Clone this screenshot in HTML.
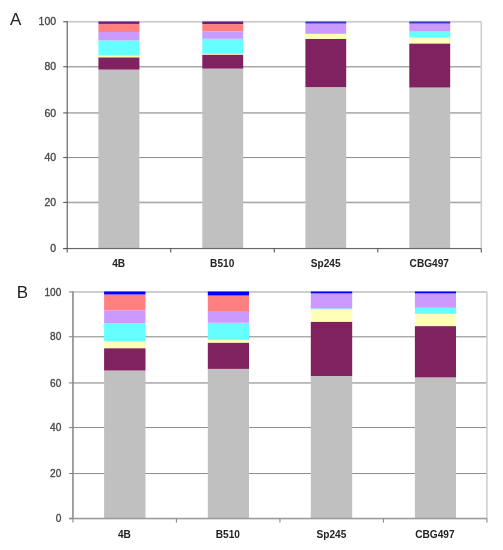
<!DOCTYPE html>
<html><head><meta charset="utf-8"><title>Figure</title>
<style>
html,body{margin:0;padding:0;background:#fff;}
svg{display:block;}
text{font-family:"Liberation Sans",sans-serif;}
.yl{fill:#444;stroke:#444;stroke-width:0.3px;}
.xl{font-size:10.1px;font-weight:bold;fill:#222;}
.lt{font-size:17px;fill:#222;}
</style></head><body>
<svg width="503" height="550" viewBox="0 0 503 550">
<defs><filter id="b" x="0" y="0" width="503" height="550" filterUnits="userSpaceOnUse"><feGaussianBlur stdDeviation="0.6"/></filter></defs>
<rect width="503" height="550" fill="#fff"/>
<g filter="url(#b)">
<rect x="67.2" y="20.86" width="414.1" height="1.8" fill="#cccccc"/>
<rect x="67.2" y="65.99" width="414.1" height="1.5" fill="#a8a8a8"/>
<rect x="67.2" y="112.17" width="414.1" height="1.5" fill="#a8a8a8"/>
<rect x="67.2" y="157.04" width="414.1" height="1.0" fill="#8c8c8c"/>
<rect x="67.2" y="201.66" width="414.1" height="1.6" fill="#a8a8a8"/>
<rect x="480.50" y="21.76" width="1.6" height="226.78" fill="#cfcfcf"/>
<rect x="98.4" y="69.6" width="41.00" height="178.94" fill="#c0c0c0"/>
<rect x="98.4" y="57.3" width="41.00" height="12.30" fill="#80205f"/>
<rect x="98.4" y="55.6" width="41.00" height="1.70" fill="#ffffa8"/>
<rect x="98.4" y="40.4" width="41.00" height="15.20" fill="#66ffff"/>
<rect x="98.4" y="32.0" width="41.00" height="8.40" fill="#cc99ff"/>
<rect x="98.4" y="23.9" width="41.00" height="8.10" fill="#ff8080"/>
<rect x="98.4" y="21.5" width="41.00" height="2.40" fill="#6a1a8a"/>
<rect x="202.3" y="68.6" width="40.90" height="179.94" fill="#c0c0c0"/>
<rect x="202.3" y="54.7" width="40.90" height="13.90" fill="#80205f"/>
<rect x="202.3" y="53.7" width="40.90" height="1.00" fill="#ffd9a0"/>
<rect x="202.3" y="38.8" width="40.90" height="14.90" fill="#66ffff"/>
<rect x="202.3" y="31.5" width="40.90" height="7.30" fill="#cc99ff"/>
<rect x="202.3" y="24.0" width="40.90" height="7.50" fill="#ff8080"/>
<rect x="202.3" y="21.5" width="40.90" height="2.50" fill="#6a1a8a"/>
<rect x="305.4" y="87.1" width="40.80" height="161.44" fill="#c0c0c0"/>
<rect x="305.4" y="38.8" width="40.80" height="48.30" fill="#80205f"/>
<rect x="305.4" y="34.0" width="40.80" height="4.80" fill="#ffffb8"/>
<rect x="305.4" y="33.0" width="40.80" height="1.00" fill="#99ccff"/>
<rect x="305.4" y="23.6" width="40.80" height="9.40" fill="#cc99ff"/>
<rect x="305.4" y="21.5" width="40.80" height="2.10" fill="#3838d0"/>
<rect x="409.3" y="87.5" width="40.90" height="161.04" fill="#c0c0c0"/>
<rect x="409.3" y="43.4" width="40.90" height="44.10" fill="#80205f"/>
<rect x="409.3" y="37.6" width="40.90" height="5.80" fill="#ffffb8"/>
<rect x="409.3" y="31.5" width="40.90" height="6.10" fill="#66ffff"/>
<rect x="409.3" y="23.6" width="40.90" height="7.90" fill="#cc99ff"/>
<rect x="409.3" y="21.5" width="40.90" height="2.10" fill="#3838d0"/>
<rect x="66.65" y="21.26" width="1.1" height="227.28" fill="#5a5a5a"/>
<rect x="63.20" y="247.94" width="418.10" height="1.2" fill="#666"/>
<rect x="63.20" y="21.21" width="4" height="1.1" fill="#5a5a5a"/>
<text x="56.1" y="25.46" text-anchor="end" class="yl" font-size="10.5">100</text>
<rect x="63.20" y="66.19" width="4" height="1.1" fill="#5a5a5a"/>
<text x="56.1" y="70.44" text-anchor="end" class="yl" font-size="10.5">80</text>
<rect x="63.20" y="112.37" width="4" height="1.1" fill="#5a5a5a"/>
<text x="56.1" y="116.62" text-anchor="end" class="yl" font-size="10.5">60</text>
<rect x="63.20" y="156.99" width="4" height="1.1" fill="#5a5a5a"/>
<text x="56.1" y="161.24" text-anchor="end" class="yl" font-size="10.5">40</text>
<rect x="63.20" y="201.91" width="4" height="1.1" fill="#5a5a5a"/>
<text x="56.1" y="206.16" text-anchor="end" class="yl" font-size="10.5">20</text>
<rect x="63.20" y="247.99" width="4" height="1.1" fill="#5a5a5a"/>
<text x="56.1" y="252.24" text-anchor="end" class="yl" font-size="10.5">0</text>
<rect x="66.65" y="248.54" width="1.1" height="4" fill="#5a5a5a"/>
<rect x="170.18" y="248.54" width="1.1" height="4" fill="#5a5a5a"/>
<rect x="273.70" y="248.54" width="1.1" height="4" fill="#5a5a5a"/>
<rect x="377.23" y="248.54" width="1.1" height="4" fill="#5a5a5a"/>
<rect x="480.75" y="248.54" width="1.1" height="4" fill="#5a5a5a"/>
<text x="118.66" y="267.4" text-anchor="middle" class="xl">4B</text>
<text x="222.19" y="267.4" text-anchor="middle" class="xl">B510</text>
<text x="325.71" y="267.4" text-anchor="middle" class="xl">Sp245</text>
<text x="429.24" y="267.4" text-anchor="middle" class="xl">CBG497</text>
<text x="10" y="25" class="lt">A</text>
<rect x="72.95" y="290.99" width="413.98" height="1.9" fill="#cccccc"/>
<rect x="72.95" y="336.04" width="413.98" height="1.4" fill="#a8a8a8"/>
<rect x="72.95" y="382.18" width="413.98" height="1.5" fill="#a8a8a8"/>
<rect x="72.95" y="427.04" width="413.98" height="1.0" fill="#8c8c8c"/>
<rect x="72.95" y="473.03" width="413.98" height="1.0" fill="#8c8c8c"/>
<rect x="486.13" y="291.94" width="1.6" height="226.60" fill="#cfcfcf"/>
<rect x="104.1" y="370.5" width="41.40" height="148.04" fill="#c0c0c0"/>
<rect x="104.1" y="348.2" width="41.40" height="22.30" fill="#80205f"/>
<rect x="104.1" y="341.2" width="41.40" height="7.00" fill="#ffffb8"/>
<rect x="104.1" y="323.3" width="41.40" height="17.90" fill="#66ffff"/>
<rect x="104.1" y="310.2" width="41.40" height="13.10" fill="#cc99ff"/>
<rect x="104.1" y="294.5" width="41.40" height="15.70" fill="#ff8080"/>
<rect x="104.1" y="291.5" width="41.40" height="3.00" fill="#0000ff"/>
<rect x="207.8" y="368.9" width="41.20" height="149.64" fill="#c0c0c0"/>
<rect x="207.8" y="342.6" width="41.20" height="26.30" fill="#80205f"/>
<rect x="207.8" y="339.8" width="41.20" height="2.80" fill="#ffffb8"/>
<rect x="207.8" y="322.7" width="41.20" height="17.10" fill="#66ffff"/>
<rect x="207.8" y="311.8" width="41.20" height="10.90" fill="#cc99ff"/>
<rect x="207.8" y="295.5" width="41.20" height="16.30" fill="#ff8080"/>
<rect x="207.8" y="291.5" width="41.20" height="4.00" fill="#0000ff"/>
<rect x="310.8" y="376.0" width="41.40" height="142.54" fill="#c0c0c0"/>
<rect x="310.8" y="321.7" width="41.40" height="54.30" fill="#80205f"/>
<rect x="310.8" y="309.4" width="41.40" height="12.30" fill="#ffffb8"/>
<rect x="310.8" y="308.4" width="41.40" height="1.00" fill="#66ffff"/>
<rect x="310.8" y="293.4" width="41.40" height="15.00" fill="#cc99ff"/>
<rect x="310.8" y="291.5" width="41.40" height="1.90" fill="#0000ff"/>
<rect x="414.9" y="377.4" width="41.10" height="141.14" fill="#c0c0c0"/>
<rect x="414.9" y="326.1" width="41.10" height="51.30" fill="#80205f"/>
<rect x="414.9" y="313.8" width="41.10" height="12.30" fill="#ffffb8"/>
<rect x="414.9" y="307.8" width="41.10" height="6.00" fill="#66ffff"/>
<rect x="414.9" y="293.4" width="41.10" height="14.40" fill="#cc99ff"/>
<rect x="414.9" y="291.5" width="41.10" height="1.90" fill="#0000ff"/>
<rect x="72.15" y="291.44" width="1.6" height="227.10" fill="#8a8a8a"/>
<rect x="68.95" y="517.74" width="417.98" height="1.6" fill="#9c9c9c"/>
<rect x="68.95" y="291.39" width="4" height="1.1" fill="#8a8a8a"/>
<text x="61.3" y="295.64" text-anchor="end" class="yl" font-size="10.1">100</text>
<rect x="68.95" y="336.19" width="4" height="1.1" fill="#8a8a8a"/>
<text x="61.3" y="340.44" text-anchor="end" class="yl" font-size="10.1">80</text>
<rect x="68.95" y="382.38" width="4" height="1.1" fill="#8a8a8a"/>
<text x="61.3" y="386.63" text-anchor="end" class="yl" font-size="10.1">60</text>
<rect x="68.95" y="426.99" width="4" height="1.1" fill="#8a8a8a"/>
<text x="61.3" y="431.24" text-anchor="end" class="yl" font-size="10.1">40</text>
<rect x="68.95" y="472.98" width="4" height="1.1" fill="#8a8a8a"/>
<text x="61.3" y="477.23" text-anchor="end" class="yl" font-size="10.1">20</text>
<rect x="68.95" y="517.99" width="4" height="1.1" fill="#8a8a8a"/>
<text x="61.3" y="522.24" text-anchor="end" class="yl" font-size="10.1">0</text>
<rect x="72.40" y="518.54" width="1.1" height="4" fill="#8a8a8a"/>
<rect x="175.89" y="518.54" width="1.1" height="4" fill="#8a8a8a"/>
<rect x="279.39" y="518.54" width="1.1" height="4" fill="#8a8a8a"/>
<rect x="382.88" y="518.54" width="1.1" height="4" fill="#8a8a8a"/>
<rect x="486.38" y="518.54" width="1.1" height="4" fill="#8a8a8a"/>
<text x="124.40" y="537.6" text-anchor="middle" class="xl">4B</text>
<text x="227.89" y="537.6" text-anchor="middle" class="xl">B510</text>
<text x="331.39" y="537.6" text-anchor="middle" class="xl">Sp245</text>
<text x="434.88" y="537.6" text-anchor="middle" class="xl">CBG497</text>
<text x="16.8" y="297.7" class="lt">B</text>
</g>
</svg>
</body></html>
